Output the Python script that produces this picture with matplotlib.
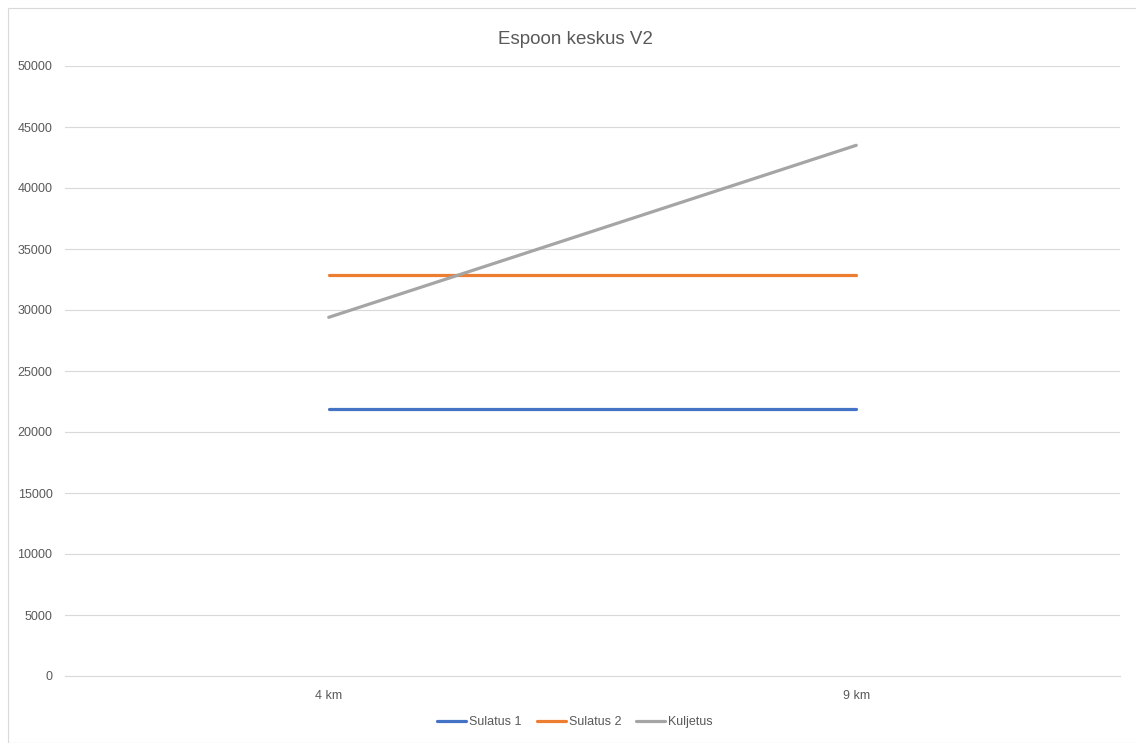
import matplotlib.pyplot as plt
from matplotlib.patches import Rectangle

# distances and cost per option
categories = ['4 km', '9 km']
sulatus1 = [21900, 21900]
sulatus2 = [32900, 32900]
kuljetus = [29400, 43500]
yticks = list(range(0, 50001, 5000))

W, H = 1136, 743
fig = plt.figure(figsize=(W / 100, H / 100), dpi=100)
plt.rcParams['font.family'] = ['Liberation Sans', 'DejaVu Sans']

# chart border
fig.patches.append(Rectangle((8 / W, 0), 1.2, 1 - 8 / H, transform=fig.transFigure,
                             fill=False, ec='#d9d9d9', lw=0.8))

ax = fig.add_axes([65 / W, 1 - 676 / H, (1120 - 65) / W, (676 - 66) / H])
x = [0, 1]
ax.plot(x, sulatus1, color='#4472C4', lw=2.3, solid_capstyle='round', label='Sulatus 1')
ax.plot(x, sulatus2, color='#ED7D31', lw=2.3, solid_capstyle='round', label='Sulatus 2')
ax.plot(x, kuljetus, color='#A5A5A5', lw=2.3, solid_capstyle='round', label='Kuljetus')

ax.set_xlim(-0.5, 1.5)
ax.set_ylim(0, 50000)
ax.set_xticks(x)
ax.set_xticklabels(categories)
ax.set_yticks(yticks)
ax.set_yticklabels([str(v) for v in yticks])
ax.tick_params(length=0, labelsize=9, colors='#595959')
ax.tick_params(axis='y', pad=9)
ax.tick_params(axis='x', pad=10)
ax.grid(axis='y', color='#d9d9d9', lw=0.8)
ax.set_axisbelow(True)
for s in ['top', 'right', 'left']:
    ax.spines[s].set_visible(False)
ax.spines['bottom'].set_color('#d9d9d9')
ax.spines['bottom'].set_linewidth(0.8)

fig.text(575 / W, 1 - 39 / H, 'Espoon keskus V2', ha='center', va='center',
         fontsize=13.5, color='#595959')

fig.legend(loc='center', bbox_to_anchor=(575 / W, 1 - 722 / H), ncol=3, frameon=False,
           fontsize=9, labelcolor='#595959', handlelength=2.3, handletextpad=0.25,
           columnspacing=1.2)

fig.savefig('out.png', dpi=100)
